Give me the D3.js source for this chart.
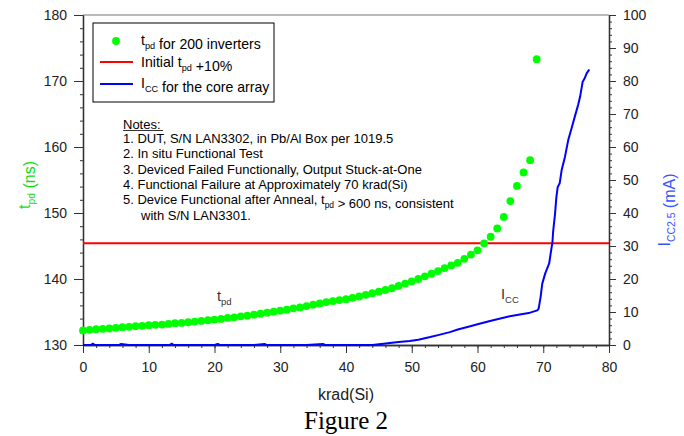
<!DOCTYPE html>
<html>
<head>
<meta charset="utf-8">
<script src="https://d3js.org/d3.v7.min.js"></script>
<style>
  body { margin: 0; background: #fff; }
  svg { display: block; font-family: "Liberation Sans", Arial, sans-serif; }
</style>
</head>
<body>
<div id="draw"></div>
<script>
// t_pd for 200 inverters (ns) vs dose (krad(Si))
var tpdDose = [0,1,2,3,4,5,6,7,8,9,10,11,12,13,14,15,16,17,18,19,20,21,22,23,24,25,26,27,28,29,
  30,31,32,33,34,35,36,37,38,39,40,41,42,43,44,45,46,47,48,49,50,51,52,53,54,55,56,57,58,59,
  60,61,62,63,64,65,66,67,68,69];
var tpdValues = [132.2,132.3,132.4,132.45,132.5,132.6,132.7,132.75,132.85,132.9,
  133.0,133.05,133.1,133.2,133.3,133.35,133.45,133.55,133.65,133.75,
  133.85,133.95,134.1,134.2,134.35,134.45,134.6,134.75,134.9,135.05,
  135.2,135.35,135.55,135.7,135.9,136.1,136.3,136.5,136.65,136.8,
  136.95,137.15,137.35,137.6,137.85,138.1,138.35,138.6,138.95,139.3,
  139.65,140.0,140.4,140.8,141.2,141.65,142.05,142.45,143.05,143.7,
  144.35,145.4,146.4,147.65,149.4,151.8,154.1,156.15,158.0,173.3];

// initial t_pd + 10%
var tpdLimit = 145.4;

// I_CC for the core array (mA)
var iccDose = [0,1.2,1.5,1.8,4,5.5,5.8,7,9,11,13.2,13.5,13.8,16,18,20,20.5,20.8,22,24,26,27.6,27.9,30,
  32,34,36.5,36.8,38,40,42,44,45.7,47,48,49.7,51,52.8,54,55.8,57,58.9,60,61.9,63,64.9,66,68,69.1,
  69.3,69.6,69.85,70.3,70.5,70.9,71.2,71.4,71.5,71.8,72.0,72.2,72.5,72.8,73.3,73.8,74.3,74.8,
  75.3,75.6,76.0,76.3,76.6,77.0];
var iccValues = [0,0,0.4,0,0,0,0.3,0,0,0,0,0.4,0,0,0,0,0.3,0,0,0,0,0.3,0,0,
  0,0,0.3,0,0,0,0,0,0.4,0.7,0.9,1.2,1.6,2.4,3.0,3.9,4.7,5.7,6.3,7.3,7.8,8.7,9.1,9.8,10.5,
  11.0,14.6,18.6,21.7,22.7,24.7,28.7,31.2,34.3,39.9,44.9,47.9,49.0,53.0,57.0,62.1,65.6,69.2,
  72.7,75.2,79.8,80.8,82.3,83.5];

var xTicks = [0,10,20,30,40,50,60,70,80];
var leftTicks = [130,140,150,160,170,180];
var rightTicks = [0,10,20,30,40,50,60,70,80,90,100];

var notes = [
  '1. DUT, S/N LAN3302, in Pb/Al Box per 1019.5',
  '2. In situ Functional Test',
  '3. Deviced Failed Functionally, Output Stuck-at-One',
  '4. Functional Failure at Approximately 70 krad(Si)'
];

var W = 684, H = 436;
var svg = d3.select('#draw').append('svg').attr('width', W).attr('height', H);

var x = d3.scaleLinear().domain([0, 80]).range([83, 609]);
var yL = d3.scaleLinear().domain([130, 180]).range([345, 15]);
var yR = d3.scaleLinear().domain([0, 100]).range([345, 15]);

var axisColor = '#333';

function styleAxis(g) {
  g.selectAll('path, line').attr('stroke', axisColor);
  g.selectAll('text').attr('fill', '#222').style('font-size', '14px');
}

// top frame line
svg.append('line')
  .attr('x1', x(0)).attr('x2', x(80)).attr('y1', yL(180)).attr('y2', yL(180))
  .attr('stroke', '#777').attr('stroke-width', 1.2);

// minor ticks
svg.append('g').attr('transform', 'translate(0,' + yL(130) + ')')
  .call(d3.axisBottom(x).tickValues(d3.range(0, 81, 2)).tickSize(3).tickSizeOuter(0).tickFormat(''))
  .call(styleAxis);
svg.append('g').attr('transform', 'translate(' + x(0) + ',0)')
  .call(d3.axisLeft(yL).tickValues(d3.range(130, 181, 2)).tickSize(3).tickSizeOuter(0).tickFormat(''))
  .call(styleAxis);
svg.append('g').attr('transform', 'translate(' + x(80) + ',0)')
  .call(d3.axisRight(yR).tickValues(d3.range(0, 101, 2)).tickSize(3).tickSizeOuter(0).tickFormat(''))
  .call(styleAxis);

// major ticks
svg.append('g').attr('transform', 'translate(0,' + yL(130) + ')')
  .call(d3.axisBottom(x).tickValues(xTicks).tickSize(8).tickPadding(9).tickSizeOuter(0))
  .call(styleAxis);
svg.append('g').attr('transform', 'translate(' + x(0) + ',0)')
  .call(d3.axisLeft(yL).tickValues(leftTicks).tickSize(9).tickPadding(7).tickSizeOuter(0))
  .call(styleAxis);
svg.append('g').attr('transform', 'translate(' + x(80) + ',0)')
  .call(d3.axisRight(yR).tickValues(rightTicks).tickSize(7).tickPadding(7).tickSizeOuter(0))
  .call(styleAxis);

svg.selectAll('.domain').attr('stroke-width', 1.3);

// limit line
svg.append('line')
  .attr('x1', x(0)).attr('x2', x(80)).attr('y1', yL(tpdLimit)).attr('y2', yL(tpdLimit))
  .attr('stroke', '#ff0000').attr('stroke-width', 2);

// Icc line
var iccLine = d3.line()
  .x(function(d, i){ return x(iccDose[i]); })
  .y(function(d){ return yR(d); });
svg.append('path').datum(iccValues)
  .attr('d', iccLine)
  .attr('fill', 'none').attr('stroke', '#0000ff').attr('stroke-width', 2)
  .attr('stroke-linejoin', 'round');

// tpd points
svg.selectAll('circle.tpd')
  .data(tpdValues)
  .enter()
  .append('circle')
  .attr('class', 'tpd')
  .attr('cx', function(d, i){ return x(tpdDose[i]); })
  .attr('cy', function(d){ return yL(d); })
  .attr('r', 3.9)
  .attr('fill', '#00ff00');

// text with subscript helper
function subText(g, px, py, parts, size, color, anchor) {
  var t = g.append('text').attr('x', px).attr('y', py)
    .style('font-size', size + 'px').attr('fill', color);
  if (anchor) t.attr('text-anchor', anchor);
  parts.forEach(function(p){
    if (p.sub) {
      t.append('tspan').attr('dy', size * 0.3).style('font-size', (size * 0.65) + 'px').text(p.sub);
      t.append('tspan').attr('dy', -size * 0.3).text('');
    } else {
      t.append('tspan').text(p.t);
    }
  });
  return t;
}

// legend
var lfs = 14.1;
var leg = svg.append('g');
leg.append('rect').attr('x', 93).attr('y', 23).attr('width', 181).attr('height', 79)
  .attr('fill', '#fff').attr('stroke', '#000').attr('stroke-width', 1);
leg.append('circle').attr('cx', 116).attr('cy', 41).attr('r', 3.9).attr('fill', '#00ff00');
leg.append('line').attr('x1', 100).attr('x2', 133).attr('y1', 62).attr('y2', 62)
  .attr('stroke', '#ff0000').attr('stroke-width', 2);
leg.append('line').attr('x1', 100).attr('x2', 133).attr('y1', 84).attr('y2', 84)
  .attr('stroke', '#0000ff').attr('stroke-width', 2);
subText(leg, 141, 45, [{t:'t'},{sub:'pd'},{t:' for 200 inverters'}], lfs, '#000');
subText(leg, 141, 67, [{t:'Initial t'},{sub:'pd'},{t:' +10%'}], lfs, '#000');
subText(leg, 141, 88, [{t:'I'},{sub:'CC'},{t:' for the core array'}], lfs, '#000');

// notes
var nfs = 13;
var ng = svg.append('g');
ng.append('text').attr('x', 123).attr('y', 128.5).style('font-size', nfs + 'px').attr('fill', '#000').text('Notes:');
ng.append('line').attr('x1', 123).attr('x2', 163).attr('y1', 130.5).attr('y2', 130.5)
  .attr('stroke', '#000').attr('stroke-width', 0.8);
notes.forEach(function(s, i){
  ng.append('text').attr('x', 123).attr('y', 143.3 + i * 15.1)
    .style('font-size', nfs + 'px').attr('fill', '#000').text(s);
});
subText(ng, 123, 143.3 + 4 * 15.1, [{t:'5. Device Functional after Anneal, t'},{sub:'pd'},{t:' > 600 ns, consistent'}], nfs, '#000');
ng.append('text').attr('x', 141).attr('y', 143.3 + 5 * 15.1 + 1)
  .style('font-size', nfs + 'px').attr('fill', '#000').text('with S/N LAN3301.');

// curve labels
subText(svg, 217, 301, [{t:'t'},{sub:'pd'}], 14.6, '#333');
subText(svg, 501, 299, [{t:'I'},{sub:'CC'}], 14.6, '#333');

// axis titles
svg.append('text').attr('x', 346).attr('y', 400).attr('text-anchor', 'middle')
  .style('font-size', '16px').attr('fill', '#222').text('krad(Si)');

var lt = subText(svg, 0, 0, [{t:'t'},{sub:'pd'},{t:' (ns)'}], 16, '#11dd11', 'middle');
lt.attr('transform', 'translate(30,185) rotate(-90)');

var rt = subText(svg, 0, 0, [{t:'I'},{sub:'CC2.5'},{t:' (mA)'}], 16, '#3355ff', 'middle');
rt.attr('transform', 'translate(670,210) rotate(-90)');

svg.append('text').attr('x', 346).attr('y', 429).attr('text-anchor', 'middle')
  .style('font-family', '"Liberation Serif", "Times New Roman", serif')
  .style('font-size', '25px').attr('fill', '#000').text('Figure 2');
</script>
</body>
</html>
